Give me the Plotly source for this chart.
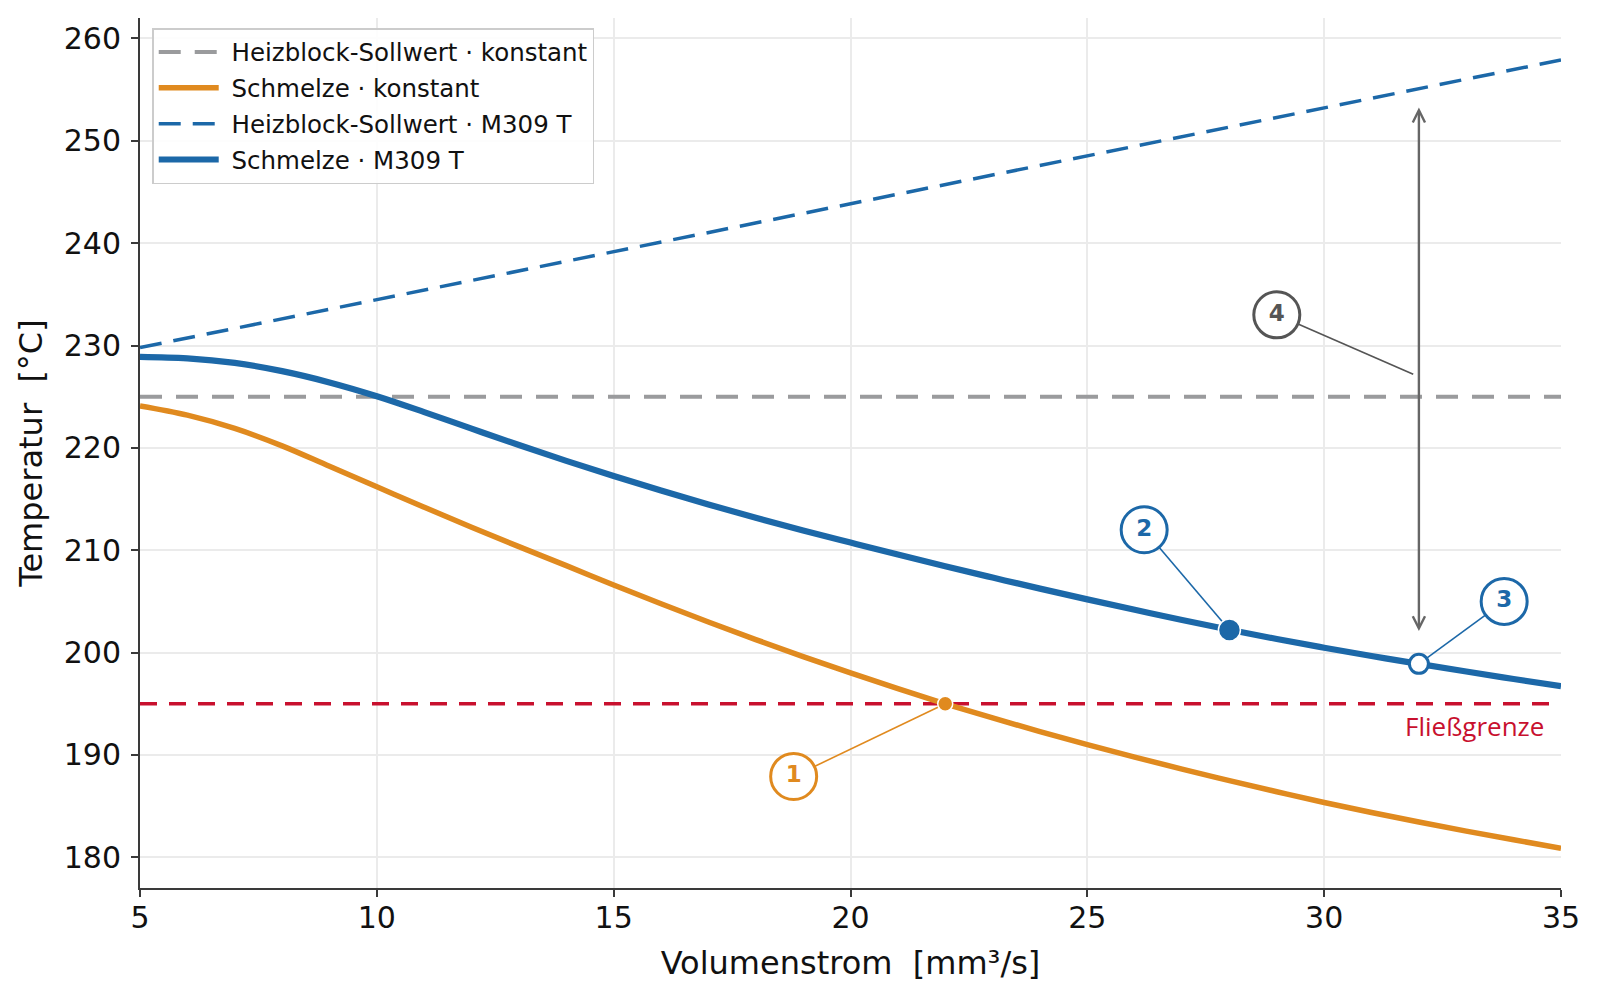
import plotly.graph_objects as go

# ---------------- data ----------------
flow = [5, 6, 7, 8, 9, 10, 11, 12, 13, 14, 15, 16, 17, 18, 19, 20,
        21, 22, 23, 24, 25, 26, 27, 28, 29, 30, 31, 32, 33, 34, 35]
melt_const = [224.1, 223.2, 221.9, 220.2, 218.2, 216.2, 214.2, 212.25, 210.35, 208.5,
              206.6, 204.77, 202.99, 201.27, 199.61, 198.01, 196.48, 195.0, 193.61, 192.28,
              191.01, 189.79, 188.62, 187.49, 186.4, 185.35, 184.38, 183.45, 182.56, 181.71, 180.89]
melt_m309 = [228.9, 228.75, 228.3, 227.5, 226.4, 225.05, 223.5, 221.88, 220.28, 218.73,
             217.25, 215.83, 214.47, 213.17, 211.93, 210.75, 209.58, 208.44, 207.33, 206.25,
             205.2, 204.18, 203.19, 202.23, 201.33, 200.48, 199.67, 198.9, 198.15, 197.42, 196.71]
setp_m309_x = [5, 35]
setp_m309_y = [229.8, 257.9]
setp_const = 225.0
yield_limit = 195.0

series_names = ["Heizblock-Sollwert · konstant", "Schmelze · konstant",
                "Heizblock-Sollwert · M309 T", "Schmelze · M309 T"]

# highlighted points
p1 = (22.0, 195.0)
p2 = (28.0, 202.2)
p3 = (32.0, 198.9)
arrow_x = 32.0
arrow_top = 253.4
arrow_bottom = 202.1

callout_labels = ["1", "2", "3", "4"]
callout_x = [18.8, 26.2, 33.8, 29.0]
callout_y = [187.9, 212.0, 205.0, 233.0]
target_x = [22.0, 28.0, 32.0, 31.88]
target_y = [195.0, 202.2, 198.9, 227.2]
callout_colors = ["#e08a1f", "#1c68a8", "#1c68a8", "#555555"]

x_ticks = [5, 10, 15, 20, 25, 30, 35]
y_ticks = [180, 190, 200, 210, 220, 230, 240, 250, 260]

ORANGE = "#e08a1f"
BLUE = "#1c68a8"
GRAY = "#9a9b9d"
RED = "#c8102e"
FONT = "DejaVu Sans"
PAD = "\u00a0"

fig = go.Figure()

xr = [flow[0], flow[-1]]
# red yield line (not in legend)
fig.add_trace(go.Scatter(x=xr, y=[yield_limit, yield_limit], mode="lines",
                         line=dict(color=RED, width=3.5, dash="17px,12px"),
                         showlegend=False, hoverinfo="skip"))
fig.add_trace(go.Scatter(x=xr, y=[setp_const, setp_const], mode="lines",
                         name=PAD + series_names[0], legendgroup="a",
                         line=dict(color=GRAY, width=4, dash="22px,14px")))
fig.add_trace(go.Scatter(x=flow, y=melt_const, mode="lines",
                         name=PAD + series_names[1], legendgroup="b",
                         line=dict(color=ORANGE, width=5.5, shape="spline")))
fig.add_trace(go.Scatter(x=setp_m309_x, y=setp_m309_y, mode="lines",
                         name=PAD + series_names[2], legendgroup="c",
                         line=dict(color=BLUE, width=3.5, dash="22px,12px")))
fig.add_trace(go.Scatter(x=flow, y=melt_m309, mode="lines",
                         name=PAD + series_names[3], legendgroup="d",
                         line=dict(color=BLUE, width=6.2, shape="spline")))

# leader lines
for lx, ly, tx, ty, c in zip(callout_x, callout_y, target_x, target_y, callout_colors):
    fig.add_trace(go.Scatter(x=[lx, tx], y=[ly, ty], mode="lines",
                             line=dict(color=c, width=1.6),
                             showlegend=False, hoverinfo="skip", cliponaxis=False))

# highlighted points
fig.add_trace(go.Scatter(x=[p1[0]], y=[p1[1]], mode="markers", showlegend=False,
                         marker=dict(size=15, color=ORANGE, line=dict(color="white", width=1.5))))
fig.add_trace(go.Scatter(x=[p2[0]], y=[p2[1]], mode="markers", showlegend=False,
                         marker=dict(size=22, color=BLUE, line=dict(color="white", width=1.5))))
fig.add_trace(go.Scatter(x=[p3[0]], y=[p3[1]], mode="markers", showlegend=False,
                         marker=dict(size=19, color="white", line=dict(color=BLUE, width=3))))

# callout circles
for lab, lx, ly, c in zip(callout_labels, callout_x, callout_y, callout_colors):
    fig.add_trace(go.Scatter(x=[lx], y=[ly], mode="markers+text", text=[f"<b>{lab}</b>"],
                             textposition="middle center",
                             textfont=dict(family=FONT, size=23, color=c),
                             marker=dict(size=46, color="white", line=dict(color=c, width=3)),
                             showlegend=False, hoverinfo="skip", cliponaxis=False))

# double arrow
fig.add_annotation(x=arrow_x, y=arrow_bottom, ax=arrow_x, ay=arrow_top,
                   xref="x", yref="y", axref="x", ayref="y", text="",
                   showarrow=True, arrowhead=5, startarrowhead=5, arrowside="end+start",
                   arrowsize=1, startarrowsize=1, arrowwidth=2.4, arrowcolor="#666666",
                   standoff=0, startstandoff=0)

fig.add_annotation(x=34.68, y=192.8, xref="x", yref="y", text="Fließgrenze",
                   showarrow=False, xanchor="right", yanchor="middle",
                   font=dict(family="Open Sans", size=26, color=RED))

axis_common = dict(showgrid=True, gridcolor="#ebebeb", gridwidth=1.5,
                   showline=True, linecolor="#3a3a3a", linewidth=2,
                   ticks="outside", ticklen=7, tickwidth=1.6, tickcolor="#3a3a3a",
                   tickfont=dict(family=FONT, size=30, color="#111111"),
                   zeroline=False, mirror=False)

fig.update_xaxes(range=[5, 35], tickvals=x_ticks, ticklabelstandoff=-5, **axis_common,
                 title=dict(text="Volumenstrom  [mm³/s]", standoff=18,
                            font=dict(family=FONT, size=32, color="#111111")))
fig.update_yaxes(range=[177, 262], tickvals=y_ticks, ticklabelstandoff=4, **axis_common,
                 title=dict(text="Temperatur  [°C]", standoff=12,
                            font=dict(family=FONT, size=32, color="#111111")))

fig.update_layout(
    width=1600, height=998,
    margin=dict(l=140, r=39, t=18, b=110),
    plot_bgcolor="white", paper_bgcolor="white",
    font=dict(family=FONT),
    legend=dict(x=0.0086, y=0.9885, xanchor="left", yanchor="top",
                bgcolor="rgba(255,255,255,0.9)", bordercolor="#cccccc", borderwidth=1.5,
                font=dict(family=FONT, size=24.5, color="#111111"),
                itemwidth=60, tracegroupgap=1),
)

fig.write_html("out.html")
